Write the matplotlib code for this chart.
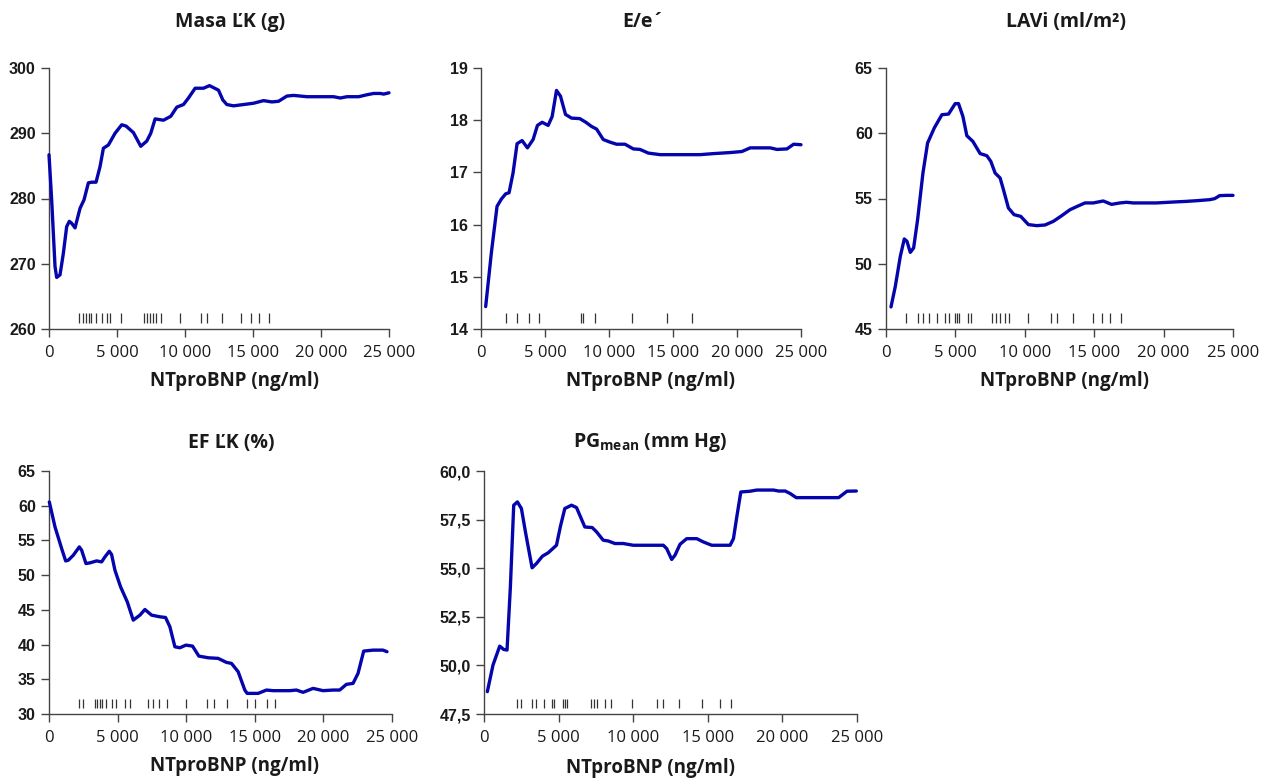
import os
import matplotlib
matplotlib.use("Agg")
import matplotlib.pyplot as plt
from matplotlib import font_manager

plt.rcParams["mathtext.default"] = "regular"

# ---- data ----
masa_x = [0, 196, 442, 564, 810, 1055, 1300, 1496, 1668, 1914, 2282, 2576, 2895, 3140, 3459,
          3754, 3999, 4367, 4857, 5348, 5667, 6207, 6747, 7188, 7483, 7802, 8415, 8955, 9397,
          9887, 10255, 10746, 11359, 11801, 12463, 12782, 13077, 13567, 14303, 15039, 15775,
          16389, 16879, 17493, 17984, 18965, 20928, 21418, 21909, 22768, 23381, 23872, 24362,
          24607, 25000]
masa_y = [286.7, 279.8, 269.6, 267.9, 268.3, 271.6, 275.7, 276.5, 276.2, 275.5, 278.5, 279.8,
          282.4, 282.5, 282.5, 284.9, 287.7, 288.2, 290.0, 291.3, 291.1, 290.1, 288.0, 288.8,
          290.0, 292.2, 292.0, 292.6, 294.0, 294.4, 295.4, 296.9, 296.9, 297.3, 296.6, 295.1,
          294.4, 294.2, 294.4, 294.6, 295.0, 294.8, 294.9, 295.7, 295.8, 295.6, 295.6, 295.4,
          295.6, 295.6, 295.9, 296.1, 296.1, 296.0, 296.2]
masa_rug = [2228, 2522, 2721, 2919, 3110, 3456, 3919, 4243, 4485, 5294, 6963, 7228, 7426,
            7669, 7875, 8213, 9632, 11154, 11596, 12699, 14140, 14831, 15419, 16154]

ee_x = [365, 809, 1253, 1592, 1931, 2192, 2505, 2818, 3210, 3627, 4071, 4410, 4776, 5245,
        5558, 5898, 6211, 6602, 7072, 7724, 8194, 8637, 9029, 9551, 10073, 10595, 11247,
        11900, 12422, 13074, 13987, 15553, 17119, 18163, 19468, 20381, 21033, 22599, 23121,
        23904, 24426, 25000]
ee_y = [14.43, 15.46, 16.35, 16.49, 16.59, 16.61, 16.99, 17.55, 17.61, 17.47, 17.63, 17.90,
        17.96, 17.90, 18.07, 18.57, 18.46, 18.11, 18.04, 18.03, 17.96, 17.88, 17.83, 17.63,
        17.58, 17.54, 17.54, 17.45, 17.44, 17.37, 17.34, 17.34, 17.34, 17.36, 17.38, 17.40,
        17.47, 17.47, 17.44, 17.45, 17.54, 17.53]
ee_rug = [1953, 2839, 3724, 4505, 7786, 7995, 8906, 11771, 14531, 16505]

lavi_x = [360, 671, 1031, 1318, 1510, 1750, 1990, 2277, 2661, 2996, 3476, 4027, 4506, 4986,
          5225, 5537, 5825, 6256, 6783, 7263, 7550, 7862, 8222, 8461, 8821, 9228, 9707, 10259,
          10858, 11457, 12057, 12656, 13255, 13782, 14334, 14933, 15652, 16251, 16850, 17330,
          17809, 19487, 20686, 21645, 22364, 23322, 23682, 24041, 24521, 25000]
lavi_y = [46.69, 48.27, 50.57, 51.90, 51.72, 50.87, 51.21, 53.38, 56.95, 59.25, 60.40, 61.42,
          61.47, 62.27, 62.27, 61.30, 59.81, 59.38, 58.44, 58.28, 57.85, 56.95, 56.57, 55.68,
          54.27, 53.76, 53.63, 53.00, 52.92, 52.97, 53.25, 53.68, 54.14, 54.40, 54.66, 54.66,
          54.81, 54.55, 54.66, 54.71, 54.66, 54.66, 54.73, 54.78, 54.83, 54.91, 54.99, 55.22,
          55.24, 55.24]
lavi_rug = [1441, 2305, 2690, 3122, 3698, 4251, 4515, 4995, 5139, 5281, 5886, 6146, 7616,
            7905, 8213, 8552, 8883, 10209, 11866, 12341, 13451, 14892, 15562, 16138, 16923]

ef_x = [24, 437, 922, 1214, 1408, 1772, 2209, 2379, 2694, 2985, 3471, 3835, 4078, 4393, 4563,
        4806, 5218, 5704, 6141, 6626, 6990, 7476, 8083, 8495, 8811, 9175, 9539, 9976, 10461,
        10922, 11602, 12330, 12937, 13301, 13786, 14272, 14442, 15243, 15850, 16335, 17549,
        18034, 18519, 19248, 19976, 20704, 21189, 21675, 22160, 22524, 22937, 23617, 24345,
        24636]
ef_y = [60.54, 56.95, 53.83, 52.05, 52.15, 52.87, 54.07, 53.59, 51.67, 51.77, 52.05, 51.91,
        52.63, 53.44, 52.97, 50.71, 48.31, 46.16, 43.52, 44.24, 45.05, 44.24, 44.00, 43.90,
        42.56, 39.68, 39.54, 39.92, 39.78, 38.34, 38.10, 38.01, 37.43, 37.29, 36.09, 33.45,
        32.97, 32.97, 33.45, 33.36, 33.36, 33.45, 33.12, 33.69, 33.36, 33.45, 33.45, 34.27,
        34.41, 35.85, 39.06, 39.20, 39.20, 38.97]
ef_rug = [2187, 2500, 3331, 3520, 3695, 3885, 4177, 4592, 4883, 5539, 5904, 7238, 7602, 8017,
          8601, 9985, 11494, 12026, 12996, 14431, 15036, 15911, 16494]

pg_x = [224, 604, 1052, 1321, 1544, 1768, 1992, 2238, 2507, 2798, 3223, 3514, 3917, 4297,
        4857, 5125, 5416, 5864, 6200, 6424, 6759, 7252, 7543, 7990, 8326, 8774, 9333, 10004,
        11347, 12019, 12243, 12579, 12802, 13138, 13586, 14257, 14705, 15264, 16495, 16719,
        16943, 17212, 17839, 18286, 19405, 19741, 20188, 20524, 20927, 22091, 23770, 24329,
        24955]
pg_y = [48.65, 50.02, 50.99, 50.82, 50.79, 54.04, 58.24, 58.41, 58.07, 56.78, 55.02, 55.24,
        55.62, 55.79, 56.18, 57.16, 58.07, 58.24, 58.12, 57.72, 57.12, 57.09, 56.87, 56.44,
        56.40, 56.27, 56.27, 56.18, 56.18, 56.18, 56.01, 55.45, 55.67, 56.23, 56.52, 56.52,
        56.35, 56.18, 56.18, 56.52, 57.64, 58.92, 58.96, 59.02, 59.02, 58.97, 58.97, 58.84,
        58.63, 58.63, 58.63, 58.96, 58.97]
pg_rug = [2212, 2460, 3237, 3465, 4021, 4538, 4712, 5275, 5409, 5563, 7152, 7373, 7574, 8110,
          8512, 9940, 11575, 11997, 13090, 14591, 15798, 16576]

titles = ["Masa \u013dK (g)", "E/e\u00b4", "LAVi (ml/m\u00b2)", "EF \u013dK (%)",
          "PG$_{mean}$ (mm Hg)"]
xlabel = "NTproBNP (ng/ml)"
xticks = [0, 5000, 10000, 15000, 20000, 25000]

# Arial-like bold for the y tick labels (avoid picking up "Liberation Sans Narrow")
ytick_font = font_manager.FontProperties(family="Liberation Sans", weight="bold", size=11.5)
for f in font_manager.findSystemFonts():
    if os.path.basename(f) == "LiberationSans-Bold.ttf":
        ytick_font = font_manager.FontProperties(fname=f, size=11.5)
        break

W, H = 1266, 780
fig = plt.figure(figsize=(W / 100, H / 100), dpi=100)

# axes boxes in pixels: left, right, top, bottom
boxes = [(49, 389, 68, 329), (481, 801, 68, 329), (886, 1233, 68, 329),
         (49, 392, 471, 714), (484, 857, 471, 714)]
title_pos = [(230, 22), (643, 22), (1066, 22), (231, 443), (650, 443)]
xlabel_pos = [(234, 381), (650, 381), (1064, 381), (234, 766), (651, 768)]

series = [(masa_x, masa_y, masa_rug, (260, 300), [260, 270, 280, 290, 300], "{:.0f}"),
          (ee_x, ee_y, ee_rug, (14, 19), [14, 15, 16, 17, 18, 19], "{:.0f}"),
          (lavi_x, lavi_y, lavi_rug, (45, 65), [45, 50, 55, 60, 65], "{:.0f}"),
          (ef_x, ef_y, ef_rug, (30, 65), [30, 35, 40, 45, 50, 55, 60, 65], "{:.0f}"),
          (pg_x, pg_y, pg_rug, (47.5, 60), [47.5, 50, 52.5, 55, 57.5, 60], "{:.1f}")]

line_col = "#0505ad"
spine_col = "#444444"
text_col = "#1a1a1a"

for i, (xs, ys, rug, ylim, yticks, fmt) in enumerate(series):
    l, r, t, b = boxes[i]
    ax = fig.add_axes([l / W, 1 - b / H, (r - l) / W, (b - t) / H])
    ax.plot(xs, ys, color=line_col, lw=2.4, solid_joinstyle="round", solid_capstyle="round",
            clip_on=False, zorder=3)
    ax.vlines(rug, 0.024, 0.063, transform=ax.get_xaxis_transform(), color="#333333", lw=0.9)
    ax.set_xlim(0, 25000)
    ax.set_ylim(*ylim)
    ax.set_xticks(xticks, labels=[f"{v:,}".replace(",", " ") for v in xticks],
                  fontfamily="Open Sans", fontsize=12, color=text_col)
    ax.set_yticks(yticks, labels=[fmt.format(v).replace(".", ",") for v in yticks],
                  fontproperties=ytick_font, color=text_col)
    for s in ["top", "right"]:
        ax.spines[s].set_visible(False)
    for s in ["left", "bottom"]:
        ax.spines[s].set_color(spine_col)
        ax.spines[s].set_linewidth(1.0)
    ax.tick_params(direction="out", length=5.5, width=1.0, color=spine_col)
    ax.tick_params(axis="y", pad=4)
    ax.tick_params(axis="x", pad=6)

    tx, ty = title_pos[i]
    fig.text(tx / W, 1 - ty / H, titles[i], ha="center", va="center", fontsize=14,
             fontweight="bold", family="Open Sans", color=text_col)
    lx, ly = xlabel_pos[i]
    fig.text(lx / W, 1 - ly / H, xlabel, ha="center", va="center", fontsize=13.5,
             fontweight="bold", family="Open Sans", color=text_col)

fig.savefig("out.png", dpi=100)
